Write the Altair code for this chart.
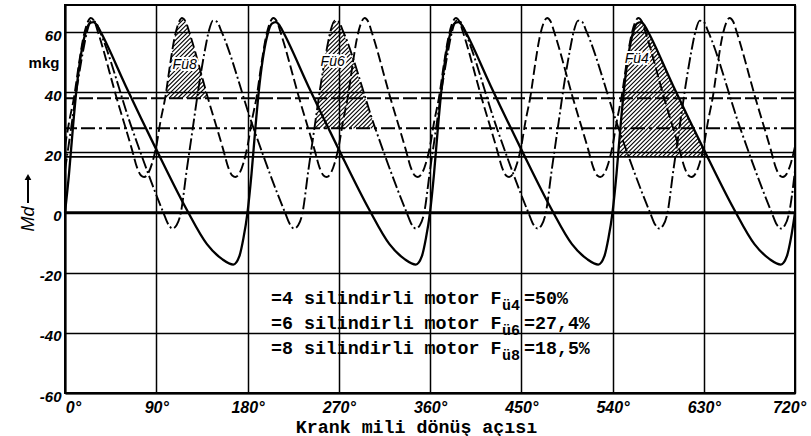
import altair as alt
import numpy as np
import pandas as pd

# ---- crankshaft angle [deg] and torque Md [mkg] ----
# 4-cylinder engine (solid)
ang_4 = [0, 4, 8, 12, 16, 20, 24, 28, 32, 36, 60, 90, 120, 140, 155, 166, 172, 176,
         180, 184, 188, 192, 196, 200, 204, 208, 212, 216, 240, 270, 300, 320, 335, 346, 352, 356,
         360, 364, 368, 372, 376, 380, 384, 388, 392, 396, 420, 450, 480, 500, 515, 526, 532, 536,
         540, 544, 548, 552, 556, 560, 564, 568, 572, 576, 600, 630, 660, 680, 695, 706, 712, 716,
         720]
md_4 = [0, 13, 29, 43, 53, 59.5, 62.8, 63.3, 62, 59.5, 42, 21, 1, -10.5, -15.5, -17.3, -14.5, -8.5,
        0, 13, 29, 43, 53, 59.5, 62.8, 63.3, 62, 59.5, 42, 21, 1, -10.5, -15.5, -17.3, -14.5, -8.5,
        0, 13, 29, 43, 53, 59.5, 62.8, 63.3, 62, 59.5, 42, 21, 1, -10.5, -15.5, -17.3, -14.5, -8.5,
        0, 13, 29, 43, 53, 59.5, 62.8, 63.3, 62, 59.5, 42, 21, 1, -10.5, -15.5, -17.3, -14.5, -8.5,
        0]

# 6-cylinder engine (dash-dot)
ang_6 = [0, 6, 12, 18, 22, 26, 30, 34, 66, 97, 102, 106, 110, 114,
         120, 126, 132, 138, 142, 146, 150, 154, 186, 217, 222, 226, 230, 234,
         240, 246, 252, 258, 262, 266, 270, 274, 306, 337, 342, 346, 350, 354,
         360, 366, 372, 378, 382, 386, 390, 394, 426, 457, 462, 466, 470, 474,
         480, 486, 492, 498, 502, 506, 510, 514, 546, 577, 582, 586, 590, 594,
         600, 606, 612, 618, 622, 626, 630, 634, 666, 697, 702, 706, 710, 714,
         720]
md_6 = [14, 28, 42, 54, 60.5, 63.8, 63.4, 60.5, 28, 0, -4, -5.3, -4.2, -0.5,
        14, 28, 42, 54, 60.5, 63.8, 63.4, 60.5, 28, 0, -4, -5.3, -4.2, -0.5,
        14, 28, 42, 54, 60.5, 63.8, 63.4, 60.5, 28, 0, -4, -5.3, -4.2, -0.5,
        14, 28, 42, 54, 60.5, 63.8, 63.4, 60.5, 28, 0, -4, -5.3, -4.2, -0.5,
        14, 28, 42, 54, 60.5, 63.8, 63.4, 60.5, 28, 0, -4, -5.3, -4.2, -0.5,
        14, 28, 42, 54, 60.5, 63.8, 63.4, 60.5, 28, 0, -4, -5.3, -4.2, -0.5,
        14]

# 8-cylinder engine (dashed)
ang_8 = [0, 4, 9, 14, 18, 22, 25.5, 29, 33, 51, 66, 71, 75, 78, 82, 86,
         90, 94, 99, 104, 108, 112, 115.5, 119, 123, 141, 156, 161, 165, 168, 172, 176,
         180, 184, 189, 194, 198, 202, 205.5, 209, 213, 231, 246, 251, 255, 258, 262, 266,
         270, 274, 279, 284, 288, 292, 295.5, 299, 303, 321, 336, 341, 345, 348, 352, 356,
         360, 364, 369, 374, 378, 382, 385.5, 389, 393, 411, 426, 431, 435, 438, 442, 446,
         450, 454, 459, 464, 468, 472, 475.5, 479, 483, 501, 516, 521, 525, 528, 532, 536,
         540, 544, 549, 554, 558, 562, 565.5, 569, 573, 591, 606, 611, 615, 618, 622, 626,
         630, 634, 639, 644, 648, 652, 655.5, 659, 663, 681, 696, 701, 705, 708, 712, 716,
         720]
md_8 = [22, 30, 38.5, 50, 58, 63, 64.7, 63.5, 59.5, 38, 21, 15, 12.3, 11.8, 13, 16.5,
        22, 30, 38.5, 50, 58, 63, 64.7, 63.5, 59.5, 38, 21, 15, 12.3, 11.8, 13, 16.5,
        22, 30, 38.5, 50, 58, 63, 64.7, 63.5, 59.5, 38, 21, 15, 12.3, 11.8, 13, 16.5,
        22, 30, 38.5, 50, 58, 63, 64.7, 63.5, 59.5, 38, 21, 15, 12.3, 11.8, 13, 16.5,
        22, 30, 38.5, 50, 58, 63, 64.7, 63.5, 59.5, 38, 21, 15, 12.3, 11.8, 13, 16.5,
        22, 30, 38.5, 50, 58, 63, 64.7, 63.5, 59.5, 38, 21, 15, 12.3, 11.8, 13, 16.5,
        22, 30, 38.5, 50, 58, 63, 64.7, 63.5, 59.5, 38, 21, 15, 12.3, 11.8, 13, 16.5,
        22, 30, 38.5, 50, 58, 63, 64.7, 63.5, 59.5, 38, 21, 15, 12.3, 11.8, 13, 16.5,
        22]

# mean torque of each engine [mkg]
mean_4, mean_6, mean_8 = 18.5, 28.0, 38.0

# legend: cylinder count and excess-work ratio
cylinders = [4, 6, 8]
excess = ["50%", "27,4%", "18,5%"]

# shaded excess-work areas: label, angle window [deg], label position
area_labels = ["Fü8", "Fü6", "Fü4"]
area_windows = [(95, 145), (240, 310), (540, 640)]
area_label_deg = [118, 264, 564]
area_label_md = [49, 50, 51]

x_ticks = [0, 90, 180, 270, 360, 450, 540, 630, 720]
y_ticks = [-60, -40, -20, 0, 20, 40, 60]
x_title = "Krank mili dönüş açısı"

# ---- layout ----
W, H = 730, 388
Y_MIN, Y_MAX = -60, 69
xsc = alt.Scale(domain=[0, 720], nice=False, zero=False)
ysc = alt.Scale(domain=[Y_MIN, Y_MAX], nice=False, zero=False)

SANS = "Liberation Sans, Arial, sans-serif"
MONO = "Liberation Mono, DejaVu Sans Mono"

x_axis = alt.Axis(
    values=x_ticks, labelExpr="datum.value + '°'",
    grid=True, gridColor="#000", gridWidth=1.5, gridOpacity=1,
    domain=True, domainColor="#000", domainWidth=2, ticks=False,
    labelFont=SANS, labelFontSize=16, labelFontStyle="italic", labelFontWeight="bold",
    labelColor="#000", labelBaseline="alphabetic", labelPadding=19,
    labelOffset={"condition": [{"test": "datum.value == 0", "value": 8},
                               {"test": "datum.value == 720", "value": -6}], "value": 0},
    labelFlush=False, labelOverlap=False, labelBound=False,
    titleFont=MONO, titleFontSize=18.3, titleFontWeight="bold", titleColor="#000",
    titleX=351, titleY=39, titleAlign="center", titleBaseline="alphabetic",
)
y_axis = alt.Axis(
    values=y_ticks, labelExpr="'' + datum.value",
    grid=True, gridColor="#000", gridWidth=1.5, gridOpacity=1,
    domain=True, domainColor="#000", domainWidth=2, ticks=False,
    labelFont=SANS, labelFontSize=15, labelFontStyle="italic", labelFontWeight="bold",
    labelColor="#000", labelBaseline="alphabetic", labelOffset=8, labelPadding=4,
    labelOverlap=False, labelFlush=False, labelBound=False,
)


def xenc(field="deg"):
    return alt.X(f"{field}:Q", scale=xsc, axis=x_axis, title=x_title)


def yenc(field="md"):
    return alt.Y(f"{field}:Q", scale=ysc, axis=y_axis, title=None)


def curve_df(a, v):
    return pd.DataFrame({"deg": a, "md": v})


c4 = alt.Chart(curve_df(ang_4, md_4)).mark_line(
    color="#000", strokeWidth=2.3, interpolate="monotone"
).encode(x=xenc(), y=yenc())
c6 = alt.Chart(curve_df(ang_6, md_6)).mark_line(
    color="#000", strokeWidth=1.9, strokeDash=[12, 3, 2, 3], interpolate="monotone"
).encode(x=xenc(), y=yenc())
c8 = alt.Chart(curve_df(ang_8, md_8)).mark_line(
    color="#000", strokeWidth=1.9, strokeDash=[10, 4], interpolate="monotone"
).encode(x=xenc(), y=yenc())

# zero line
zero = alt.Chart(pd.DataFrame({"md": [0]})).mark_rule(color="#000", strokeWidth=2.6).encode(y=yenc())

# mean torque lines
m4 = alt.Chart(pd.DataFrame({"md": [mean_4]})).mark_rule(color="#000", strokeWidth=1.6).encode(y=yenc())
m6 = alt.Chart(pd.DataFrame({"md": [mean_6]})).mark_rule(
    color="#000", strokeWidth=2, strokeDash=[14, 4, 3, 4]).encode(y=yenc())
m8 = alt.Chart(pd.DataFrame({"md": [mean_8]})).mark_rule(
    color="#000", strokeWidth=2, strokeDash=[14, 4]).encode(y=yenc())

# hatching of the excess-work areas between a curve and its mean line
kx = W / 720.0
ky = H / float(Y_MAX - Y_MIN)


def hatch(ang, val, mean, lo, hi, step=4.3):
    a = np.linspace(lo, hi, 3000)
    f = np.interp(a, ang, val)
    u = a * kx
    wf = f * ky
    wm = mean * ky
    rows = []
    for c in np.arange((wm - u).min(), (wf - u).max(), step):
        w = u + c
        inside = (w >= wm) & (w <= wf)
        if inside.any():
            idx = np.where(inside)[0]
            rows.append({"deg": a[idx[0]], "md": w[idx[0]] / ky,
                         "a2": a[idx[-1]], "v2": w[idx[-1]] / ky})
    return rows


hatch_rows = []
for (ang, val, mean), (lo, hi) in zip(
        [(ang_8, md_8, mean_8), (ang_6, md_6, mean_6), (ang_4, md_4, mean_4)], area_windows):
    hatch_rows += hatch(ang, val, mean, lo, hi)
hatch_df = pd.DataFrame(hatch_rows)

hatching = alt.Chart(hatch_df).mark_rule(color="#000", strokeWidth=1.1).encode(
    x=xenc(), x2="a2:Q", y=yenc(), y2="v2:Q"
)

lab_df = pd.DataFrame({"t": area_labels, "deg": area_label_deg, "md": area_label_md})
lab_halo = alt.Chart(lab_df).mark_text(
    font=SANS, fontSize=14, fontStyle="italic", color="#fff", stroke="#fff", strokeWidth=4,
    align="center", baseline="middle"
).encode(x=xenc(), y=yenc(), text="t:N")
lab_txt = alt.Chart(lab_df).mark_text(
    font=SANS, fontSize=14, fontStyle="italic", color="#000",
    align="center", baseline="middle"
).encode(x=xenc(), y=yenc(), text="t:N")

# legend text (monospace, with subscripts)
leg = pd.DataFrame({
    "main": [f"={c} silindirli motor F" for c in cylinders],
    "sub": [f"ü{c}" for c in cylinders],
    "tail": [f"={p}" for p in excess],
    "row": [0, 1, 2],
})
leg["ypix"] = 299 + 25 * leg["row"]
leg["ysub"] = leg["ypix"] + 6

leg_main = alt.Chart(leg).mark_text(
    font=MONO, fontSize=18.3, fontWeight="bold", color="#000", align="left", baseline="alphabetic"
).encode(x=alt.value(206), y=alt.Y("ypix:Q", scale=None), text="main:N")
leg_sub = alt.Chart(leg).mark_text(
    font=MONO, fontSize=15, fontWeight="bold", color="#000", align="left", baseline="alphabetic"
).encode(x=alt.value(437), y=alt.Y("ysub:Q", scale=None), text="sub:N")
leg_tail = alt.Chart(leg).mark_text(
    font=MONO, fontSize=18.3, fontWeight="bold", color="#000", align="left", baseline="alphabetic"
).encode(x=alt.value(459), y=alt.Y("ypix:Q", scale=None), text="tail:N")

# unit and quantity marks beside the y axis
unit = alt.Chart(pd.DataFrame({"t": ["mkg"]})).mark_text(
    font=SANS, fontSize=15, fontWeight="bold", color="#000",
    align="center", baseline="alphabetic"
).encode(x=alt.value(-21), y=alt.value(63), text="t:N")
qty = alt.Chart(pd.DataFrame({"t": ["Md"]})).mark_text(
    font=SANS, fontSize=18, fontStyle="italic", color="#000",
    align="center", baseline="middle", angle=270
).encode(x=alt.value(-36), y=alt.value(214), text="t:N")
arrow_shaft = alt.Chart(pd.DataFrame({"t": [0]})).mark_rule(color="#000", strokeWidth=2).encode(
    x=alt.value(-37), y=alt.value(198), y2=alt.value(174)
)
arrow_head = alt.Chart(pd.DataFrame({"t": [0]})).mark_point(
    shape="triangle-up", filled=True, color="#000", size=45, opacity=1
).encode(x=alt.value(-37), y=alt.value(172))

chart = alt.layer(
    c4, zero, m4, m6, m8, hatching, c6, c8,
    lab_halo, lab_txt, leg_main, leg_sub, leg_tail,
    unit, qty, arrow_shaft, arrow_head,
).properties(
    width=W, height=H,
    autosize=alt.AutoSizeParams(type="none"),
    padding={"left": 65, "top": 5, "right": 16, "bottom": 43},
    background="white",
).configure_view(stroke="#000", strokeWidth=2)

chart.save("out.html", embed_options={"renderer": "svg", "actions": False})
